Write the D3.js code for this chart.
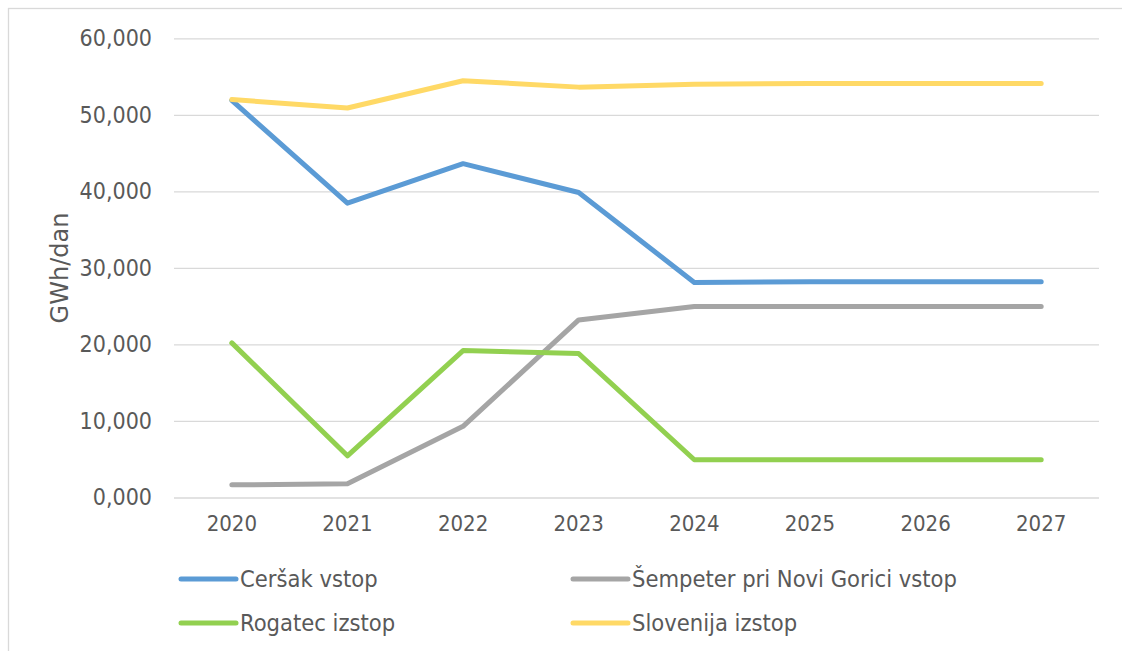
<!DOCTYPE html>
<html>
<head>
<meta charset="utf-8">
<script src="https://cdn.jsdelivr.net/npm/d3@7"></script>
<style>
  body { margin: 0; background: #fff; }
  svg text { font-family: "DejaVu Sans Condensed", "DejaVu Sans", sans-serif; font-stretch: condensed; fill: #595959; }
</style>
</head>
<body>
<div id="viz_div"></div>
<script>
// DATA (GWh/dan)
const years = ["2020", "2021", "2022", "2023", "2024", "2025", "2026", "2027"];
const seriesNames = ["Ceršak vstop", "Šempeter pri Novi Gorici vstop", "Rogatec izstop", "Slovenija izstop"];
const cersak = [51.9, 38.45, 43.62, 39.85, 28.1, 28.2, 28.2, 28.2];
const sempeter = [1.65, 1.8, 9.3, 23.2, 24.95, 24.95, 24.95, 24.95];
const rogatec = [20.2, 5.45, 19.2, 18.8, 4.93, 4.93, 4.93, 4.93];
const slovenija = [51.99, 50.9, 54.45, 53.62, 53.98, 54.1, 54.1, 54.1];
const yTicks = [0, 10, 20, 30, 40, 50, 60];
const colors = ["#5b9bd5", "#a5a5a5", "#92d050", "#ffd966"];

const allSeries = [cersak, sempeter, rogatec, slovenija];

// SCALES
const W = 1122, H = 651;
const plot = { left: 174, right: 1099, top: 38.3, bottom: 497.5 };

const x = d3.scaleBand().domain(years).range([plot.left, plot.right]);
const y = d3.scaleLinear().domain([0, 60]).range([plot.bottom, plot.top]);
const locale = d3.formatLocale({ decimal: ",", thousands: ".", grouping: [3], currency: ["", "€"] });
const fmt = locale.format(".3f");

const svg = d3.select("#viz_div").append("svg")
    .attr("width", W)
    .attr("height", H);

// chart area border
svg.append("rect")
    .attr("x", 8.5).attr("y", 8.5)
    .attr("width", W + 20).attr("height", H + 20)
    .attr("fill", "none")
    .attr("stroke", "#d9d9d9")
    .attr("stroke-width", 1.3);

// GRIDLINES + Y AXIS
const yAxis = svg.append("g")
    .attr("transform", `translate(${plot.left},0)`)
    .call(d3.axisLeft(y).tickValues(yTicks).tickFormat(fmt)
        .tickSize(-(plot.right - plot.left)).tickPadding(22));
yAxis.select(".domain").remove();
yAxis.selectAll(".tick line").attr("stroke", "#d9d9d9").attr("stroke-width", 1.3);
yAxis.selectAll(".tick text").style("font-size", "23px");

// X AXIS
const xAxis = svg.append("g")
    .attr("transform", `translate(0,${plot.bottom})`)
    .call(d3.axisBottom(x).tickSize(0).tickPadding(18));
xAxis.select(".domain").remove();
xAxis.selectAll(".tick text").style("font-size", "22px");

// LINES
const line = d3.line()
    .x((d, i) => x(years[i]) + x.bandwidth() / 2)
    .y(d => y(d));

svg.selectAll(".series")
    .data(allSeries)
    .enter()
    .append("path")
    .attr("class", "series")
    .attr("fill", "none")
    .attr("stroke", (d, i) => colors[i])
    .attr("stroke-width", 5)
    .attr("stroke-linejoin", "round")
    .attr("stroke-linecap", "round")
    .attr("d", line);

// Y TITLE
svg.append("text")
    .attr("transform", "translate(68,268) rotate(-90)")
    .attr("text-anchor", "middle")
    .style("font-size", "24px")
    .style("font-family", "'DejaVu Sans', sans-serif")
    .style("font-stretch", "normal")
    .text("GWh/dan");

// LEGEND
const legX = [181, 573], legY = [579, 623];
const leg = svg.selectAll(".leg")
    .data(seriesNames)
    .enter()
    .append("g")
    .attr("class", "leg")
    .attr("transform", (d, i) => `translate(${legX[i % 2]},${legY[Math.floor(i / 2)]})`);

leg.append("line")
    .attr("x1", 0).attr("x2", 55)
    .attr("stroke", (d, i) => colors[i])
    .attr("stroke-width", 5)
    .attr("stroke-linecap", "round");

leg.append("text")
    .attr("x", 59)
    .attr("dy", "0.35em")
    .style("font-size", "23.5px")
    .text(d => d);
</script>
</body>
</html>
